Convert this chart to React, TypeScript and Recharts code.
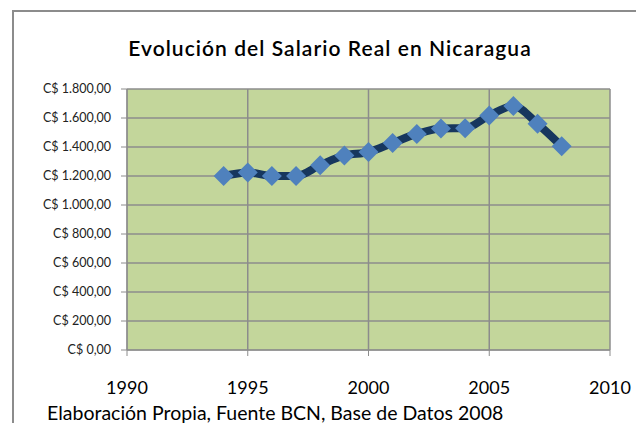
import * as React from 'react';
import { LineChart, Line, XAxis, YAxis, CartesianGrid } from 'recharts';

// Salario real (C$), años 1994–2008
const years    = [1994, 1995, 1996, 1997, 1998, 1999, 2000, 2001, 2002, 2003, 2004, 2005, 2006, 2007, 2008];
const salaries = [1200, 1225, 1200, 1200, 1275, 1342, 1365, 1428, 1490, 1528, 1530, 1617, 1682, 1560, 1405];
const xTicks   = [1990, 1995, 2000, 2005, 2010];
const yTicks   = [0, 200, 400, 600, 800, 1000, 1200, 1400, 1600, 1800];

const TITLE  = 'Evolución del Salario Real en Nicaragua';
const SOURCE = 'Elaboración Propia, Fuente BCN, Base de Datos 2008';
const FONT   = 'Lato, "Open Sans", sans-serif';

const data = years.map((y, i) => ({ year: y, salario: salaries[i] }));

const fmtCS = (n: number) => {
  const s = String(Math.round(n)).replace(/\B(?=(\d{3})+(?!\d))/g, '.');
  return `C$ ${s},00`;
};

function Diamond(props: any) {
  const { cx, cy } = props;
  if (cx == null || cy == null) return null;
  const r = 10;
  return (
    <path
      d={`M${cx},${cy - r} L${cx + r},${cy} L${cx},${cy + r} L${cx - r},${cy} Z`}
      fill="#4F81BD"
    />
  );
}

export default function App() {
  return (
    <div style={{ position: 'absolute', left: 0, top: 0, width: 636, height: 423, overflow: 'hidden', background: '#fff', fontFamily: FONT }}>
      <div style={{ position: 'absolute', left: 12, top: 10, width: 700, height: 500, border: '2px solid #8c8c8c', boxSizing: 'border-box' }} />
      <div style={{ position: 'absolute', left: 0, top: 35, width: 660, textAlign: 'center', fontSize: 21, lineHeight: '26px', letterSpacing: 1.05, fontWeight: 600, color: '#000' }}>
        {TITLE}
      </div>
      <div style={{ position: 'absolute', left: 0, top: 0 }}>
        <LineChart width={636} height={423} data={data} margin={{ top: 89, right: 26, bottom: 33, left: 0 }}>
          <CartesianGrid fill="#C3D69B" stroke="#8c8c8c" strokeWidth={1.5} horizontalValues={yTicks} verticalValues={xTicks} />
          <XAxis
            dataKey="year"
            type="number"
            domain={[1990, 2010]}
            ticks={xTicks}
            height={40}
            axisLine={{ stroke: '#8c8c8c' }}
            tickLine={{ stroke: '#8c8c8c' }}
            tickSize={6}
            tick={{ fontSize: 18, fill: '#000', fontFamily: FONT }}
            tickMargin={25}
          />
          <YAxis
            type="number"
            domain={[0, 1800]}
            ticks={yTicks}
            width={127}
            tickFormatter={fmtCS}
            axisLine={{ stroke: '#8c8c8c' }}
            tickLine={{ stroke: '#8c8c8c' }}
            tickSize={6}
            tickMargin={10}
            tick={{ fontSize: 12.5, fill: '#222', fontFamily: FONT }}
          />
          <Line
            type="monotone"
            dataKey="salario"
            stroke="#17375E"
            strokeWidth={8}
            dot={<Diamond />}
            activeDot={false}
            isAnimationActive={false}
          />
        </LineChart>
      </div>
      <div style={{ position: 'absolute', left: 47, top: 402, fontSize: 19.5, lineHeight: '22px', color: '#000', whiteSpace: 'nowrap' }}>
        {SOURCE}
      </div>
    </div>
  );
}
